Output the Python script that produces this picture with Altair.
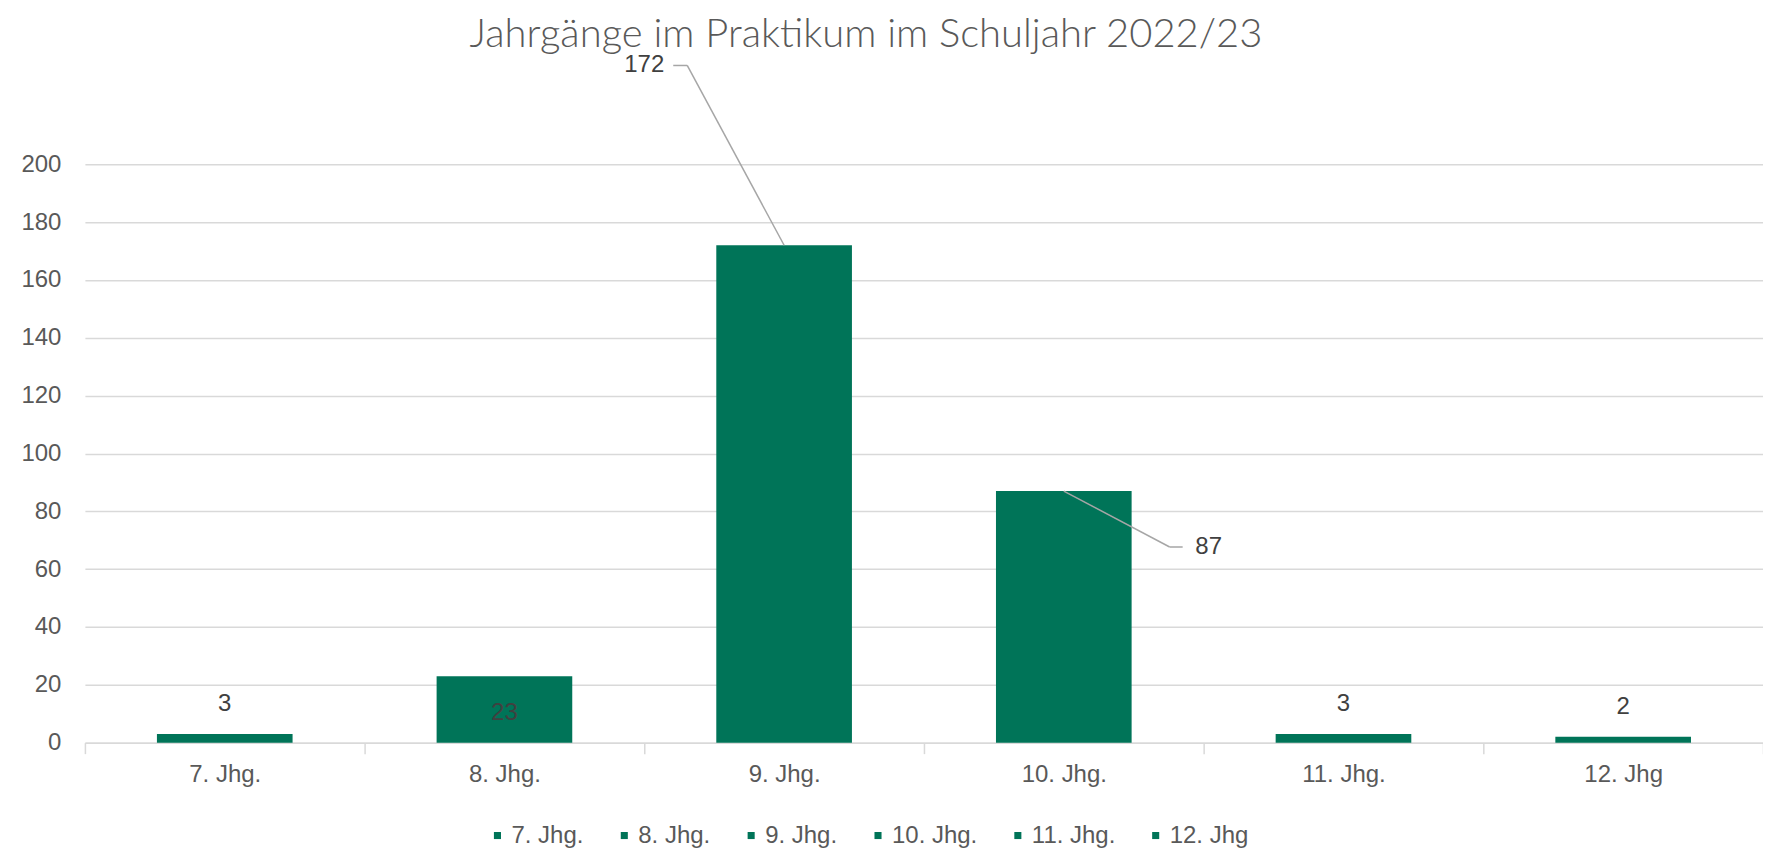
import altair as alt
import pandas as pd

categories = ["7. Jhg.", "8. Jhg.", "9. Jhg.", "10. Jhg.", "11. Jhg.", "12. Jhg"]
values = [3, 23, 172, 87, 3, 2]
y_ticks = [0, 20, 40, 60, 80, 100, 120, 140, 160, 180, 200]
title_text = "Jahrgänge im Praktikum im Schuljahr 2022/23"

df = pd.DataFrame({"cat": categories, "value": values})

GREEN = "#007458"
GRID = "#d9d9d9"
TXT = "#595959"
LBL = "#404040"
LEAD = "#a6a6a6"
FONT = "Liberation Sans"
FS = 24

x = alt.X(
    "cat:N", sort=categories, title=None,
    scale=alt.Scale(paddingInner=0, paddingOuter=0),
    axis=alt.Axis(tickBand="extent", labelAngle=0, labelFont=FONT, labelFontSize=FS,
                  labelColor=TXT, domainColor=GRID, domainWidth=1.5, tickColor=GRID,
                  tickWidth=1.5, tickSize=11, labelPadding=9, grid=False),
)
y = alt.Y(
    "value:Q", title=None, scale=alt.Scale(domain=[0, 200], nice=False),
    axis=alt.Axis(values=y_ticks, domain=False, ticks=False, labelPadding=24,
                  labelFont=FONT, labelFontSize=FS, labelColor=TXT,
                  gridColor=GRID, gridWidth=1.5),
)

base = alt.Chart(df)

bars = base.mark_bar(width=alt.RelativeBandSize(0.485)).encode(
    x=x, y=y,
    color=alt.Color(
        "cat:N", sort=categories,
        scale=alt.Scale(domain=categories, range=[GREEN] * len(categories)),
        legend=alt.Legend(title=None, orient="none", legendX=401, legendY=660,
                          direction="horizontal", symbolType="square", symbolSize=50,
                          symbolStrokeWidth=0, labelFont=FONT, labelFontSize=FS,
                          labelColor=TXT, columnPadding=28, labelOffset=2, padding=0),
    ),
)

txt = dict(font=FONT, fontSize=FS, color=LBL, baseline="middle", align="center")

lab_out = base.transform_filter(
    alt.FieldOneOfPredicate(field="cat", oneOf=["7. Jhg.", "11. Jhg.", "12. Jhg"])
).mark_text(dy=-30, **txt).encode(x=x, y=y, text="value:Q")
lab_in = base.transform_filter(alt.datum.cat == "8. Jhg.").mark_text(dy=37, **txt).encode(
    x=x, y=y, text="value:Q")
lab_9 = base.transform_filter(alt.datum.cat == "9. Jhg.").mark_text(dx=-140, dy=-180, **txt).encode(
    x=x, y=y, text="value:Q")
lab_10 = base.transform_filter(alt.datum.cat == "10. Jhg.").mark_text(dx=145, dy=56, **txt).encode(
    x=x, y=y, text="value:Q")

def leader(cat, x0, y0, x1, y1):
    return base.transform_filter(alt.datum.cat == cat).mark_rule(
        color=LEAD, strokeWidth=1.5, xOffset=x0, yOffset=y0, x2Offset=x1, y2Offset=y1
    ).encode(x=x, y=y, x2="cat:N", y2="value:Q")

leaders = [
    leader("9. Jhg.", 0, 0, -97, -180),
    leader("9. Jhg.", -97, -180, -111, -180),
    leader("10. Jhg.", 0, 0, 106, 56),
    leader("10. Jhg.", 106, 56, 119, 56),
]

chart = alt.layer(bars, *leaders, lab_out, lab_in, lab_9, lab_10).properties(
    width=1680, height=579,
    autosize=alt.AutoSizeParams(type="none"),
    padding={"left": 77, "top": 156, "right": 0, "bottom": 106},
    title=alt.TitleParams(title_text, font="Lato", fontSize=40, fontWeight=300,
                          color=TXT, anchor="middle", frame="group", dx=-58,
                          baseline="alphabetic", offset=-34),
).configure_view(stroke=None)

chart.save("out.html", embed_options={"renderer": "svg", "actions": False})
